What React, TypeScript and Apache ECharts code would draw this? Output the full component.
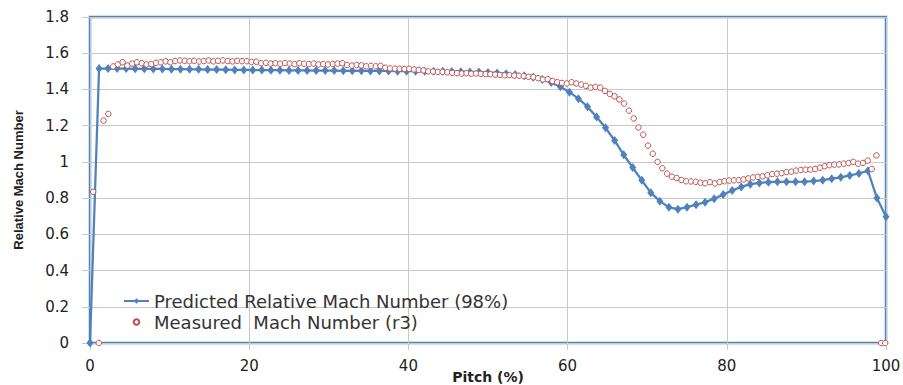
import { useEffect, useRef } from "react";
import * as echarts from "echarts";

// Predicted relative Mach number across the pitch (CFD, 98% span)
const predictedPitch = [
  0, 1.14, 2.27, 3.41, 4.55, 5.68, 6.82, 7.95, 9.09, 10.23, 11.36, 12.5, 13.64, 14.77, 15.91,
  17.05, 18.18, 19.32, 20.45, 21.59, 22.73, 23.86, 25, 26.14, 27.27, 28.41, 29.55, 30.68, 31.82,
  32.95, 34.09, 35.23, 36.36, 37.5, 38.64, 39.77, 40.91, 42.05, 43.18, 44.32, 45.45, 46.59, 47.73,
  48.86, 50, 51.14, 52.27, 53.41, 54.55, 55.68, 56.82, 57.95, 59.09, 60.23, 61.36, 62.5, 63.64,
  64.77, 65.91, 67.05, 68.18, 69.32, 70.45, 71.59, 72.73, 73.86, 75, 76.14, 77.27, 78.41, 79.55,
  80.68, 81.82, 82.95, 84.09, 85.23, 86.36, 87.5, 88.64, 89.77, 90.91, 92.05, 93.18, 94.32, 95.45,
  96.59, 97.73, 98.86, 100,
];
const predictedMach = [
  0, 1.515, 1.515, 1.515, 1.515, 1.514, 1.514, 1.513, 1.513, 1.512, 1.512, 1.511, 1.511, 1.51, 1.51,
  1.509, 1.508, 1.508, 1.507, 1.507, 1.506, 1.506, 1.505, 1.505, 1.505, 1.504, 1.504, 1.504, 1.503,
  1.503, 1.503, 1.502, 1.502, 1.502, 1.501, 1.501, 1.501, 1.5, 1.5, 1.5, 1.499, 1.498, 1.497,
  1.496, 1.494, 1.491, 1.487, 1.482, 1.476, 1.467, 1.455, 1.438, 1.415, 1.385, 1.349, 1.305, 1.248,
  1.188, 1.118, 1.039, 0.969, 0.898, 0.83, 0.783, 0.749, 0.739, 0.75, 0.764, 0.777, 0.797, 0.82,
  0.842, 0.862, 0.877, 0.884, 0.888, 0.89, 0.89, 0.89, 0.891, 0.894, 0.899, 0.907, 0.915, 0.925,
  0.936, 0.951, 0.8, 0.697,
];

// Measured Mach number (probe traverse r3)
const measuredPitch = [
  0.4, 1.1, 1.7, 2.3, 2.9,
  3.5, 4.1, 4.7, 5.3, 5.9, 6.5, 7.1, 7.7, 8.3, 8.9, 9.5, 10.1, 10.7, 11.3, 11.9, 12.5, 13.1, 13.7,
  14.3, 14.9, 15.5, 16.1, 16.7, 17.3, 17.9, 18.5, 19.1, 19.7, 20.3, 20.9, 21.5, 22.1, 22.7, 23.3,
  23.9, 24.5, 25.1, 25.7, 26.3, 26.9, 27.5, 28.1, 28.7, 29.3, 29.9, 30.5, 31.1, 31.7, 32.3, 32.9,
  33.5, 34.1, 34.7, 35.3, 35.9, 36.5, 37.1, 37.7, 38.3, 38.9, 39.5, 40.1, 40.7, 41.3, 41.9, 42.5,
  43.1, 43.7, 44.3, 44.9, 45.5, 46.1, 46.7, 47.3, 47.9, 48.5, 49.1, 49.7, 50.3, 50.9, 51.5, 52.1,
  52.7, 53.3, 53.9, 54.5, 55.1, 55.7, 56.3, 56.9, 57.5, 58.1, 58.7, 59.3, 59.9, 60.5, 61.1, 61.7,
  62.3, 62.9, 63.5, 64.1, 64.7, 65.3, 65.9, 66.5, 67.1, 67.7, 68.3, 68.9, 69.5, 70.1, 70.7, 71.3,
  71.9, 72.5, 73.1, 73.7, 74.3, 74.9, 75.5, 76.1, 76.7, 77.3, 77.9, 78.5, 79.1, 79.7, 80.3, 80.9,
  81.5, 82.1, 82.7, 83.3, 83.9, 84.5, 85.1, 85.7, 86.3, 86.9, 87.5, 88.1, 88.7, 89.3, 89.9, 90.5,
  91.1, 91.7, 92.3, 92.9, 93.5, 94.1, 94.7, 95.3, 95.9, 96.5, 97.1, 97.7,
  98.2, 98.8, 99.4, 99.9,
];
const measuredMach = [
  0.835, 0, 1.228, 1.265, 1.527,
  1.538, 1.55, 1.532, 1.543, 1.55, 1.545, 1.538, 1.54, 1.547, 1.55, 1.555, 1.55, 1.557, 1.56, 1.558,
  1.556, 1.558, 1.554, 1.557, 1.56, 1.555, 1.558, 1.56, 1.557, 1.555, 1.558, 1.556, 1.556, 1.552,
  1.553, 1.545, 1.547, 1.543, 1.545, 1.542, 1.546, 1.543, 1.54, 1.545, 1.542, 1.54, 1.543, 1.538,
  1.54, 1.538, 1.541, 1.543, 1.545, 1.535, 1.532, 1.535, 1.533, 1.528, 1.53, 1.528, 1.53, 1.52,
  1.516, 1.515, 1.514, 1.513, 1.514, 1.51, 1.508, 1.505, 1.5, 1.499, 1.497, 1.497, 1.495, 1.492,
  1.49, 1.488, 1.49, 1.487, 1.488, 1.486, 1.485, 1.484, 1.482, 1.48, 1.478, 1.479, 1.477, 1.476,
  1.474, 1.47, 1.468, 1.462, 1.455, 1.457, 1.447, 1.44, 1.436, 1.433, 1.44, 1.433, 1.427, 1.42,
  1.41, 1.414, 1.41, 1.392, 1.375, 1.362, 1.345, 1.322, 1.283, 1.24, 1.19, 1.15, 1.09, 1.045, 1.0,
  0.965, 0.935, 0.918, 0.911, 0.9, 0.893, 0.892, 0.89, 0.885, 0.882, 0.888, 0.881, 0.889, 0.893,
  0.897, 0.898, 0.899, 0.903, 0.909, 0.914, 0.917, 0.92, 0.926, 0.933, 0.935, 0.938, 0.944, 0.946,
  0.952, 0.955, 0.957, 0.958, 0.961, 0.968, 0.976, 0.982, 0.985, 0.986, 0.99, 0.994, 1.0, 0.99,
  0.994, 1.007,
  0.961, 1.036, 0, 0,
];

const predictedName = "Predicted Relative Mach Number (98%)";
const measuredName = "Measured  Mach Number (r3)";

const BLUE = "#4f81bd";
const RED = "#c0504d";
const GRID_GRAY = "#c8c8c8";

export default function App() {
  const ref = useRef<HTMLDivElement>(null);

  useEffect(() => {
    if (!ref.current) return;
    const chart = echarts.init(ref.current, undefined, { renderer: "svg" });

    const pairs = (xs: number[], ys: number[]) => xs.map((x, i) => [x, ys[i]]);

    chart.setOption({
      animation: false,
      backgroundColor: "#ffffff",
      grid: {
        left: 90,
        right: 17,
        top: 17,
        bottom: 42,
        outerBoundsMode: "none",
        show: true,
        borderColor: "#4f84c0",
        borderWidth: 2.5,
        backgroundColor: "transparent",
      },
      legend: {
        orient: "vertical",
        left: 118,
        top: 287,
        itemWidth: 25,
        itemHeight: 7,
        itemGap: 3,
        textStyle: {
          fontFamily: "DejaVu Sans",
          fontSize: 18,
          lineHeight: 18,
          color: "#333333",
        },
        data: [predictedName, measuredName],
      },
      xAxis: {
        type: "value",
        min: 0,
        max: 100,
        interval: 20,
        name: "Pitch (%)",
        nameLocation: "middle",
        nameGap: 27,
        nameMoveOverlap: false,
        nameTextStyle: {
          fontFamily: "DejaVu Sans",
          fontWeight: "bold",
          fontSize: 14,
          color: "#222222",
        },
        axisLine: { show: false },
        axisTick: { show: true, length: 7, lineStyle: { color: GRID_GRAY } },
        axisLabel: {
          margin: 15,
          fontFamily: "DejaVu Sans",
          fontSize: 15,
          color: "#222222",
        },
        splitLine: { show: true, lineStyle: { color: GRID_GRAY, width: 1 } },
      },
      yAxis: {
        type: "value",
        min: 0,
        max: 1.8,
        interval: 0.2,
        name: "Relative Mach Number",
        nameLocation: "middle",
        nameGap: 65,
        nameRotate: 90,
        nameMoveOverlap: false,
        nameTextStyle: {
          fontFamily: "Liberation Sans",
          fontWeight: "bold",
          fontSize: 13,
          color: "#222222",
        },
        axisLine: { show: false },
        axisTick: { show: true, length: 8, lineStyle: { color: GRID_GRAY } },
        axisLabel: {
          margin: 21,
          fontFamily: "DejaVu Sans",
          fontSize: 15,
          color: "#222222",
        },
        splitLine: { show: true, lineStyle: { color: GRID_GRAY, width: 1 } },
      },
      series: [
        {
          name: predictedName,
          type: "line",
          data: pairs(predictedPitch, predictedMach),
          symbol: "diamond",
          symbolSize: [7, 9],
          showAllSymbol: true,
          lineStyle: { color: BLUE, width: 2.25 },
          itemStyle: { color: BLUE },
          z: 2,
        },
        {
          name: measuredName,
          type: "line",
          data: pairs(measuredPitch, measuredMach),
          symbol: "circle",
          symbolSize: 5.5,
          showAllSymbol: true,
          lineStyle: { width: 0, opacity: 0 },
          itemStyle: { color: "#ffffff", borderColor: RED, borderWidth: 1 },
          z: 3,
        },
      ],
    });

    return () => chart.dispose();
  }, []);

  return (
    <div
      ref={ref}
      style={{ position: "fixed", left: 0, top: 0, width: 903, height: 385, background: "#fff" }}
    />
  );
}
